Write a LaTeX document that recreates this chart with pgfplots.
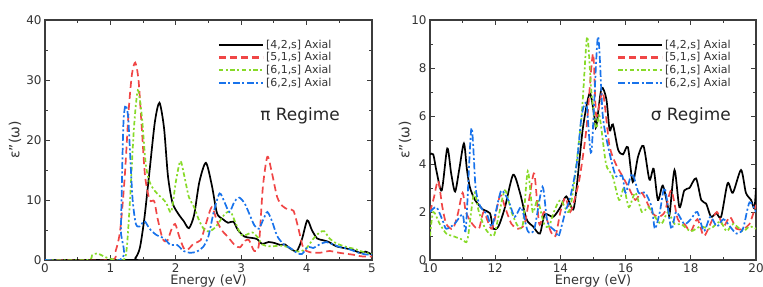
\documentclass[border=0pt]{standalone}
\usepackage{fontspec}
\setmainfont{DejaVu Sans}
\usepackage{pgfplots}
\pgfplotsset{compat=1.18}
\definecolor{cred}{RGB}{240,70,70}
\definecolor{cgreen}{RGB}{135,218,40}
\definecolor{cblue}{RGB}{25,115,235}
\definecolor{frame}{RGB}{60,60,60}
\tikzset{
  blk/.style={color=black, line width=1.7bp},
  rd/.style={color=cred, line width=1.7bp, dash pattern=on 7bp off 4bp},
  gr/.style={color=cgreen, line width=1.7bp, dash pattern=on 4.5bp off 2.5bp on 2bp off 2.5bp},
  bl/.style={color=cblue, line width=1.7bp, dash pattern=on 7bp off 2.5bp on 2bp off 2.5bp},
}
\pgfplotsset{
  myaxis/.style={
    scale only axis, width=326bp, height=240bp,
    axis line style={frame, line width=1.3bp},
    tick style={frame, line width=0.9bp},
    major tick length=5bp, minor tick length=3bp,
    tick align=inside,
    xtick pos=both, ytick pos=both,
    tick label style={font=\fontsize{12}{14}\selectfont, text=black!80},
    /pgf/number format/assume math mode=true,
    label style={font=\fontsize{13}{15}\selectfont, text=black!80},
    legend cell align=left,
    legend style={draw=none, fill=none, font=\fontsize{11}{12.7}\selectfont,
      anchor=north west, row sep=-1.2bp, inner sep=1bp},
    xlabel style={at={(axis description cs:0.5,0)}, anchor=center, yshift=-21bp},
    every axis plot/.append style={smooth, tension=0.45},
  },
}
\newcommand{\leg}[2]{\addlegendimage{legend image code/.code={\pgfsetlinewidth{2.2bp}\draw[#1] (0bp,0bp) -- (44bp,0bp);}}\addlegendentry{\color{black!80}#2}}
\newcommand{\legs}{%
\leg{color=black, line width=2bp}{[4,2,s] Axial}
\leg{color=cred, line width=2.2bp, dash pattern=on 7bp off 4bp}{[5,1,s] Axial}
\leg{color=cgreen, line width=2.2bp, dash pattern=on 4.5bp off 2.5bp on 2bp off 2.5bp}{[6,1,s] Axial}
\leg{color=cblue, line width=2.2bp, dash pattern=on 7bp off 2.5bp on 2bp off 2.5bp}{[6,2,s] Axial}}
\begin{document}
\begin{tikzpicture}
\path[use as bounding box] (0,0) rectangle (763bp,287bp);
\begin{axis}[myaxis, at={(45bp,27bp)}, anchor=south west, width=327bp,
  xmin=0, xmax=5, ymin=0, ymax=40,
  xtick={0,1,2,3,4,5}, minor xtick={0.5,1.5,2.5,3.5,4.5},
  ytick={0,10,20,30,40}, minor ytick={5,15,25,35},
  xlabel={Energy (eV)}, ylabel={\fontsize{14}{16}\selectfont ε''(ω)},
  ylabel style={at={(axis description cs:-0.092,0.5)}, anchor=center},
  legend style={at={(axis description cs:0.525,0.93)}}]
\legs
\addplot[blk, forget plot] coordinates {(0,0) (1.3,0) (1.38,0.3) (1.45,2) (1.52,7) (1.6,15) (1.68,23) (1.75,26.2) (1.82,22) (1.88,14) (1.95,9.5) (2.05,7.5) (2.12,6.5) (2.2,5.3) (2.28,7.5) (2.36,13) (2.46,16.2) (2.55,12.5) (2.63,7.8) (2.72,6.8) (2.8,6.2) (2.88,6.4) (2.95,5) (3.05,3.9) (3.15,3.7) (3.24,3.5) (3.32,2.7) (3.42,3.0) (3.52,2.8) (3.6,2.5) (3.67,2.6) (3.75,1.9) (3.85,1.5) (3.93,3.5) (4.01,6.6) (4.08,5) (4.16,3.6) (4.25,3.3) (4.34,3.0) (4.45,2.3) (4.57,2.0) (4.7,1.7) (4.82,1.2) (4.9,1.4) (5.0,0.9)};
\addplot[rd, forget plot] coordinates {(0,0) (1.0,0) (1.08,1.5) (1.15,5) (1.22,14) (1.28,25) (1.33,31) (1.38,32.9) (1.43,30) (1.48,22) (1.53,14) (1.6,10) (1.67,9.8) (1.72,7) (1.8,3.5) (1.87,3.2) (1.93,5) (1.99,6) (2.05,4) (2.12,2) (2.18,1.7) (2.28,2.8) (2.38,3.3) (2.46,6) (2.55,8.8) (2.63,6.5) (2.7,5) (2.8,3.8) (2.9,2.5) (2.98,2.1) (3.06,3.2) (3.12,3.3) (3.2,1.5) (3.27,2.5) (3.33,12) (3.4,17.2) (3.47,14.5) (3.55,10.5) (3.63,9) (3.72,8.4) (3.8,8.2) (3.88,5) (3.95,2) (4.05,1.3) (4.2,1.2) (4.35,1.5) (4.5,1.2) (4.7,0.9) (4.85,0.6) (5.0,0.6)};
\addplot[gr, forget plot] coordinates {(0,0) (0.65,0) (0.72,0.8) (0.8,1.1) (0.9,0.6) (1.0,0.2) (1.2,0) (1.25,2) (1.3,10) (1.36,22) (1.42,28.3) (1.48,24) (1.54,16) (1.6,13) (1.68,11.5) (1.76,10.6) (1.85,9.6) (1.93,8) (2.0,13) (2.07,16.5) (2.13,14) (2.2,10.5) (2.28,8.8) (2.36,6.5) (2.44,5) (2.52,4.8) (2.6,5.4) (2.68,6.6) (2.76,7.8) (2.84,8) (2.92,6) (3.0,4.2) (3.08,4.2) (3.17,4.6) (3.25,3.8) (3.32,2.6) (3.42,2.3) (3.5,2.3) (3.6,2.4) (3.7,2.2) (3.8,1.6) (3.9,1.4) (4.0,2.0) (4.1,3.5) (4.2,4.6) (4.27,4.8) (4.35,3.6) (4.45,2.8) (4.6,2.2) (4.75,1.8) (4.9,1.2) (5.0,1.0)};
\addplot[bl, forget plot] coordinates {(0,0) (1.14,0) (1.16,5) (1.18,15) (1.2,23) (1.23,25.8) (1.27,24) (1.3,18) (1.34,10) (1.39,6) (1.45,5.6) (1.52,6.5) (1.6,5.2) (1.7,4.2) (1.82,3.6) (1.92,2.5) (2.02,2.5) (2.12,1.5) (2.22,1.2) (2.32,1.4) (2.42,2.2) (2.5,4) (2.58,8) (2.67,11.1) (2.75,9.5) (2.82,8) (2.9,9.8) (2.97,10.4) (3.05,9.5) (3.12,7.8) (3.2,5.8) (3.27,5.2) (3.34,6.8) (3.4,8) (3.47,6.5) (3.55,4) (3.65,2.6) (3.75,2.0) (3.85,1.2) (3.93,1.0) (4.02,2.2) (4.1,2) (4.2,2.6) (4.3,3.0) (4.4,2.6) (4.5,2.2) (4.65,1.8) (4.8,1.2) (4.92,0.9) (5.0,0.9)};
\node[font=\fontsize{17}{19}\selectfont, text=black!85] at (axis description cs:0.78,0.6) {π Regime};
\end{axis}
\begin{axis}[myaxis, at={(430bp,27bp)}, anchor=south west,
  xmin=10, xmax=20, ymin=0, ymax=10,
  xtick={10,12,14,16,18,20}, minor xtick={11,13,15,17,19},
  ytick={0,2,4,6,8,10}, minor ytick={1,3,5,7,9},
  xlabel={Energy (eV)}, ylabel={\fontsize{14}{16}\selectfont ε''(ω)},
  ylabel style={at={(axis description cs:-0.077,0.5)}, anchor=center},
  legend style={at={(axis description cs:0.57,0.93)}}]
\legs
\addplot[blk, forget plot] coordinates {(10,4.4) (10.1,4.4) (10.2,3.7) (10.36,2.9) (10.53,4.65) (10.65,3.6) (10.77,2.85) (10.9,3.8) (11.04,4.86) (11.13,3.8) (11.22,3.05) (11.38,2.5) (11.63,2.1) (11.84,1.95) (11.94,1.3) (12.1,1.4) (12.3,2.2) (12.55,3.55) (12.76,2.8) (12.96,1.7) (13.16,1.4) (13.37,1.1) (13.52,1.9) (13.78,1.8) (14.0,2.2) (14.18,2.65) (14.39,2.1) (14.5,3.05) (14.69,5.5) (14.9,6.95) (15.05,5.9) (15.1,5.55) (15.26,7.15) (15.41,6.7) (15.51,5.4) (15.61,5.65) (15.77,4.6) (15.92,4.4) (16.07,4.7) (16.22,3.25) (16.38,4.3) (16.55,4.75) (16.73,3.35) (16.86,3.8) (16.99,2.5) (17.14,3.1) (17.3,2.2) (17.35,1.9) (17.5,3.75) (17.65,2.2) (17.8,2.9) (17.96,3.0) (18.16,3.4) (18.32,2.5) (18.47,2.35) (18.62,1.8) (18.78,1.95) (18.93,1.8) (19.13,3.2) (19.29,2.8) (19.54,3.75) (19.69,2.8) (19.85,2.5) (19.95,2.15) (20,3)};
\addplot[rd, forget plot] coordinates {(10,2) (10.12,2.6) (10.25,3.3) (10.38,2.2) (10.5,1.5) (10.7,1.3) (10.85,1.9) (11.0,2.8) (11.1,2.0) (11.3,1.5) (11.5,1.3) (11.65,2.0) (11.9,1.3) (12.15,2.7) (12.3,2.2) (12.5,1.5) (12.7,1.3) (12.9,1.5) (13.05,2.6) (13.2,3.6) (13.35,1.5) (13.5,2.0) (13.7,1.2) (13.85,1.0) (14.0,2.0) (14.15,2.6) (14.3,2.0) (14.45,2.6) (14.6,3.5) (14.8,5.5) (15.0,8.6) (15.1,6) (15.3,7) (15.5,4.8) (15.7,4) (15.9,3.5) (16.1,3) (16.3,2.5) (16.5,2.8) (16.8,2.0) (17.0,1.8) (17.2,2.0) (17.4,2.9) (17.6,1.7) (17.8,1.5) (18.0,1.2) (18.2,1.7) (18.4,1.0) (18.6,1.5) (18.8,2.0) (19.0,1.4) (19.2,1.8) (19.4,1.3) (19.6,1.3) (19.8,1.5) (20,2.3)};
\addplot[gr, forget plot] coordinates {(10,1) (10.1,2.0) (10.3,1.5) (10.5,1.1) (10.7,1.0) (11.0,0.85) (11.15,0.85) (11.35,2.8) (11.5,2.0) (11.7,1.3) (11.95,1.0) (12.1,1.8) (12.3,2.9) (12.5,2) (12.7,1.4) (12.85,1.5) (13.0,3.7) (13.15,2.0) (13.3,2.5) (13.5,1.5) (13.65,1.4) (13.8,2.0) (14.0,2.5) (14.25,2.0) (14.4,3) (14.65,6) (14.82,9.3) (14.95,7) (15.1,5.5) (15.2,6) (15.4,4) (15.6,3.5) (15.8,2.5) (15.95,3.0) (16.1,2.2) (16.3,2.8) (16.5,2.0) (16.7,2.2) (16.9,1.8) (17.1,1.5) (17.3,2.0) (17.5,1.5) (17.7,1.5) (18.0,1.2) (18.3,1.4) (18.6,1.3) (18.9,1.6) (19.1,1.2) (19.3,1.5) (19.6,1.2) (19.8,1.4) (20,1.3)};
\addplot[bl, forget plot] coordinates {(10,2.0) (10.2,2.2) (10.4,1.6) (10.5,1.3) (10.75,1.5) (11.0,1.9) (11.1,1.3) (11.27,5.5) (11.4,3) (11.55,2.2) (11.75,1.9) (11.9,1.4) (12.1,2.5) (12.2,2.9) (12.4,2.5) (12.6,1.8) (12.8,2.2) (13.0,1.2) (13.2,1.3) (13.45,3.05) (13.6,1.6) (13.85,1.2) (13.95,1.0) (14.15,2) (14.3,2.6) (14.5,4) (14.65,6) (14.8,6.5) (14.95,4.5) (15.15,9.3) (15.3,6) (15.5,4.5) (15.7,3.5) (15.9,3.5) (16.0,2.8) (16.2,3.6) (16.4,2.8) (16.6,2.8) (16.8,2.2) (16.9,1.3) (17.05,2.0) (17.2,3) (17.4,1.3) (17.55,2.0) (17.8,1.5) (18.0,1.7) (18.2,2.0) (18.4,1.2) (18.6,1.8) (18.8,1.4) (19.0,1.7) (19.2,1.4) (19.4,1.1) (19.6,1.3) (19.8,2.4) (20,2.0)};
\node[font=\fontsize{17}{19}\selectfont, text=black!85] at (axis description cs:0.8,0.6) {σ Regime};
\end{axis}
\end{tikzpicture}
\end{document}
